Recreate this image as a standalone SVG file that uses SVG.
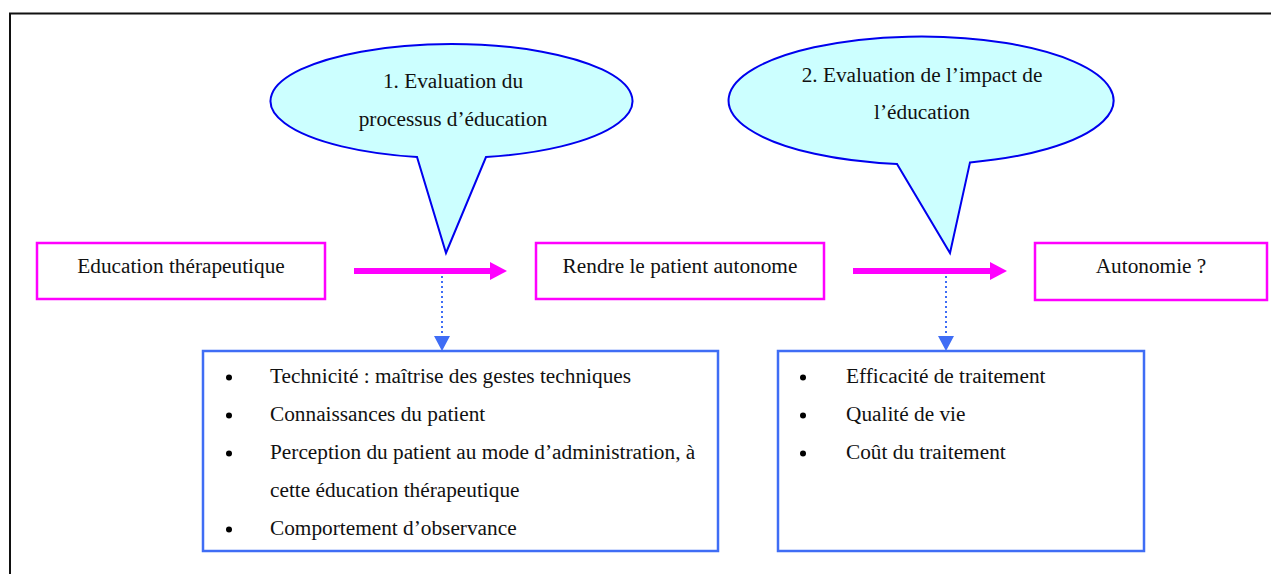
<svg xmlns="http://www.w3.org/2000/svg" width="1271" height="574" viewBox="0 0 1271 574">
<style>
text{font-family:"Liberation Serif","Times New Roman",serif;font-size:21.3px;fill:#111;}
.c{text-anchor:middle;}
.mbox{fill:#fff;stroke:#FF00FF;stroke-width:2.5;}
.bbox{fill:#fff;stroke:#3F6DF5;stroke-width:2.5;}
.bubble{fill:#CCFFFF;stroke:#0000EE;stroke-width:2;stroke-linejoin:miter;}
.main{stroke:#FF00FF;stroke-width:6;fill:none;}
.dot{stroke:#3F6DF5;stroke-width:2;stroke-dasharray:2 3;fill:none;}
.bul{fill:#000;}
</style>
<defs>
<marker id="mh" markerUnits="userSpaceOnUse" markerWidth="17" markerHeight="18" refX="0" refY="9" orient="auto"><path d="M0,0 L17,9 L0,18 Z" fill="#FF00FF"/></marker>
<marker id="bh" markerUnits="userSpaceOnUse" markerWidth="15" markerHeight="16" refX="0" refY="8" orient="auto"><path d="M0,0 L15,8 L0,16 Z" fill="#3F6DF5"/></marker>
</defs>
<g id="frame" stroke="#111" stroke-width="2" fill="none">
<line x1="9" y1="13.5" x2="1271" y2="13.5"/>
<line x1="10" y1="13" x2="10" y2="574"/>
</g>
<g id="bubble1">
<path class="bubble" d="M486,157 A181,57 0 1 0 417,157 L446,253 Z"/>
<text class="c" x="453" y="88">1. Evaluation du</text>
<text class="c" x="453" y="126">processus d’éducation</text>
</g>
<g id="bubble2">
<path class="bubble" d="M970,162.4 A192.5,64 0 1 0 897,164 L950,253 Z"/>
<text class="c" x="922" y="82">2. Evaluation de l’impact de</text>
<text class="c" x="922" y="119">l’éducation</text>
</g>
<g id="connectors">
<line class="main" x1="354" y1="271" x2="490" y2="271" marker-end="url(#mh)"/>
<line class="main" x1="853" y1="271" x2="990" y2="271" marker-end="url(#mh)"/>
<line class="dot" x1="442" y1="276" x2="442" y2="336" marker-end="url(#bh)"/>
<line class="dot" x1="946" y1="276" x2="946" y2="336" marker-end="url(#bh)"/>
</g>
<g id="node-education">
<rect class="mbox" x="37" y="243" width="288" height="56"/>
<text class="c" x="181" y="273">Education thérapeutique</text>
</g>
<g id="node-rendre">
<rect class="mbox" x="536" y="243" width="288" height="56"/>
<text class="c" x="680" y="273">Rendre le patient autonome</text>
</g>
<g id="node-autonomie">
<rect class="mbox" x="1035" y="243" width="232" height="57"/>
<text class="c" x="1151" y="273">Autonomie ?</text>
</g>
<g id="node-process-list">
<rect class="bbox" x="203" y="351" width="515" height="200"/>
<circle class="bul" cx="229" cy="377.5" r="3"/>
<circle class="bul" cx="229" cy="415.5" r="3"/>
<circle class="bul" cx="229" cy="453.5" r="3"/>
<circle class="bul" cx="229" cy="529.5" r="3"/>
<text x="270" y="383">Technicité : maîtrise des gestes techniques</text>
<text x="270" y="421">Connaissances du patient</text>
<text x="270" y="459">Perception du patient au mode d’administration, à</text>
<text x="270" y="497">cette éducation thérapeutique</text>
<text x="270" y="535">Comportement d’observance</text>
</g>
<g id="node-impact-list">
<rect class="bbox" x="778" y="351" width="366" height="200"/>
<circle class="bul" cx="803" cy="377.5" r="3"/>
<circle class="bul" cx="803" cy="415.5" r="3"/>
<circle class="bul" cx="803" cy="453.5" r="3"/>
<text x="846" y="383">Efficacité de traitement</text>
<text x="846" y="421">Qualité de vie</text>
<text x="846" y="459">Coût du traitement</text>
</g>
</svg>
